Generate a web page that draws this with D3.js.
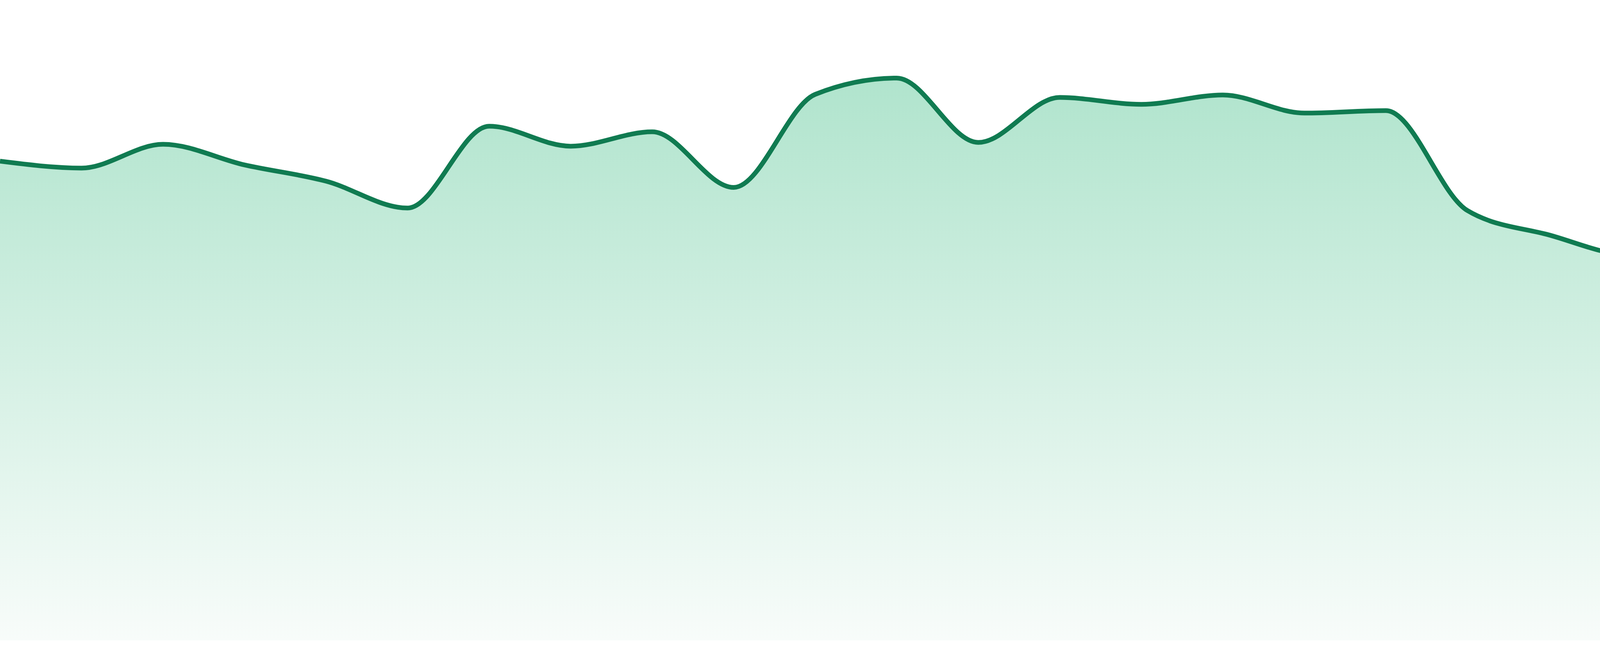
<!DOCTYPE html>
<html>
<head>
<meta charset="utf-8">
<script src="https://cdn.jsdelivr.net/npm/d3@7"></script>
<style>
  body { margin: 0; background: #fff; }
</style>
</head>
<body>
<script>
// sparkline values, one per step
const steps = d3.range(24);
const values = [76.7, 75.6, 79.4, 76.1, 73.5, 69.2, 82.3, 79.1, 81.4, 72.5, 87.4, 90.0,
                79.7, 86.9, 85.8, 87.3, 84.4, 84.8, 68.8, 64.9, 61.7, 66.1, 63.2, 69.0];

const width = 4800, height = 1680;
const bottom = 1640;

const svg = d3.select('body').append('svg')
    .attr('width', width)
    .attr('height', height);

const x = d3.scaleLinear().domain([0, steps.length - 1]).range([0, width]);
const y = d3.scaleLinear().domain([0, 100]).range([bottom, 40]);

const grad = svg.append('defs').append('linearGradient')
    .attr('id', 'fillGrad')
    .attr('x1', 0).attr('y1', 0).attr('x2', 0).attr('y2', 1);
grad.append('stop').attr('offset', '0%').attr('stop-color', '#b0e4cd');
grad.append('stop').attr('offset', '100%').attr('stop-color', '#f8fcfa');

const area = d3.area()
    .x((d, i) => x(i))
    .y0(bottom)
    .y1(d => y(d))
    .curve(d3.curveMonotoneX);

const line = d3.line()
    .x((d, i) => x(i))
    .y(d => y(d))
    .curve(d3.curveMonotoneX);

svg.append('path')
    .datum(values)
    .attr('d', area)
    .attr('fill', 'url(#fillGrad)');

svg.append('path')
    .datum(values)
    .attr('d', line)
    .attr('fill', 'none')
    .attr('stroke', '#107b51')
    .attr('stroke-width', 12);
</script>
</body>
</html>
